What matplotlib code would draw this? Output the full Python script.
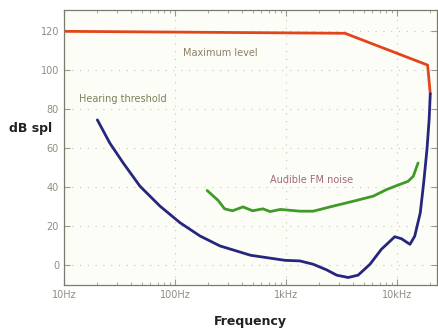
import numpy as np
import matplotlib.pyplot as plt

# Values (frequency in Hz, level in dB SPL)
max_freq = [10, 3400, 18880, 19950]
max_db = [120, 119, 102.7, 88]

thr_freq = [20, 25.9, 34.2, 48.4, 73.3, 111, 168, 254, 480, 980, 1337, 1758,
            2328, 2864, 3631, 4467, 5715, 7244, 9550, 10965, 13092, 14454,
            16218, 17378, 18621, 19500, 19950]
thr_db = [74.6, 62.7, 52.5, 40.6, 30.4, 21.9, 15.1, 10.0, 5.2, 2.6, 2.3, 0.6,
          -2.3, -5, -6.2, -5, 0.6, 8.3, 14.7, 13.7, 10.8, 15, 27, 42, 59.3,
          75, 88]

fm_freq = [195, 245, 280, 330, 410, 500, 620, 720, 890, 1337, 1758, 2667,
           4036, 6109, 8072, 9931, 12589, 14028, 15488]
fm_db = [38.4, 33.3, 29, 28, 30, 28, 29, 27.6, 28.7, 27.8, 27.8, 30.4,
         32.9, 35.5, 38.9, 40.9, 43.1, 45.7, 52.5]

x_ticks = [10, 100, 1000, 10000]
x_labels = ["10Hz", "100Hz", "1kHz", "10kHz"]
y_ticks = [0, 20, 40, 60, 80, 100, 120]

fig = plt.figure(figsize=(4.38, 3.29), dpi=100)
fig.patch.set_facecolor("white")
ax = fig.add_axes([0.146, 0.134, 0.852, 0.836])
ax.set_facecolor("#fdfdf8")

ax.plot(max_freq, max_db, color="#e4441c", linewidth=2.0,
        solid_capstyle="round", solid_joinstyle="round")
ax.plot(thr_freq, thr_db, color="#26267e", linewidth=2.0,
        solid_capstyle="round", solid_joinstyle="round")
ax.plot(fm_freq, fm_db, color="#3f9a28", linewidth=2.0,
        solid_capstyle="round", solid_joinstyle="round")

ax.set_xscale("log")
ax.set_xlim(10, 23000)
ax.set_ylim(-10, 131)
ax.set_xticks(x_ticks)
ax.set_xticklabels(x_labels)
ax.set_yticks(y_ticks)

grey = "#8e8e80"
ax.tick_params(axis="both", which="both", direction="in", colors="#9a9a8a",
               labelcolor=grey, labelsize=7, top=True, right=True)
ax.tick_params(which="major", length=4)
ax.tick_params(which="minor", length=2)
ax.grid(True, which="major", linestyle=(0, (1, 6)), color="#b0b0a0",
        linewidth=0.8, alpha=0.7)
for s in ax.spines.values():
    s.set_color("#7a7a6e")
    s.set_linewidth(0.9)

ax.text(0.32, 0.844, "Maximum level", transform=ax.transAxes, fontsize=7,
        color="#8a8066", va="center")
ax.text(0.04, 0.676, "Hearing threshold", transform=ax.transAxes, fontsize=7,
        color="#7c8058", va="center")
ax.text(0.552, 0.382, "Audible FM noise", transform=ax.transAxes, fontsize=7,
        color="#a06a78", va="center")

fig.text(9 / 438, 1 - 128 / 329, "dB spl", fontsize=9, fontweight="bold",
         color="#222222", va="center", ha="left")
fig.text(250 / 438, 1 - 321 / 329, "Frequency", fontsize=9, fontweight="bold",
         color="#222222", va="center", ha="center")

fig.savefig("out.png", dpi=100)
